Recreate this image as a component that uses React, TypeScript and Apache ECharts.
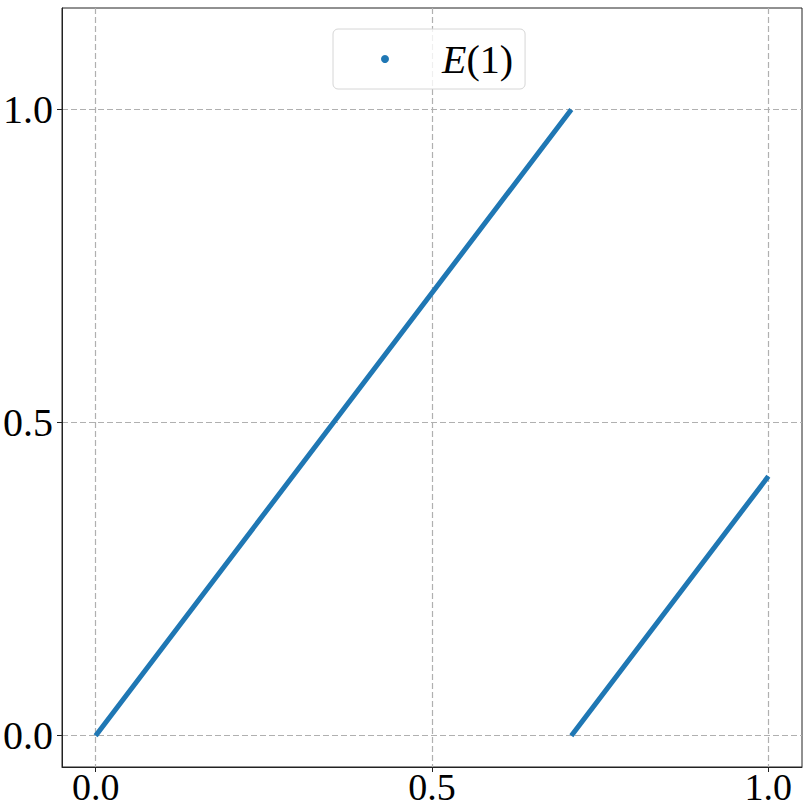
import React, { useEffect, useRef } from "react";
import * as echarts from "echarts";

const seriesName = "E(1)";
const xValues: (number | null)[] = [0, 0.7071, null, 0.7071, 1.0];
const yValues: (number | null)[] = [0, 1.0, null, 0, 0.4142];
const xTicks = [0, 0.5, 1.0];
const yTicks = [0, 0.5, 1.0];
const xRange = [-0.05, 1.05];
const yRange = [-0.05, 1.162];

const serif = "'Liberation Serif', 'DejaVu Serif', serif";

export default function App() {
  const ref = useRef<HTMLDivElement>(null);
  useEffect(() => {
    if (!ref.current) return;
    const chart = echarts.init(ref.current, null, { renderer: "svg" });
    const data = xValues.map((x, i) =>
      x === null || yValues[i] === null ? ["-", "-"] : [x, yValues[i]]
    );
    const gridLine = {
      show: true,
      lineStyle: { color: "#b0b0b0", width: 1.2, type: [6, 3] as any },
    };
    const axisLine = { show: true, onZero: false, lineStyle: { color: "#222", width: 1 } };
    chart.setOption({
      animation: false,
      backgroundColor: "#ffffff",
      grid: {
        left: 62,
        right: 8,
        top: 8,
        bottom: 43,
        show: true,
        borderColor: "#222",
        borderWidth: 1,
        containLabel: false,
        outerBoundsMode: "none",
      },
      legend: {
        show: true,
        data: [{ name: seriesName, icon: "circle" }],
        left: 333,
        top: 29,
        orient: "horizontal",
        itemWidth: 8,
        itemHeight: 8,
        padding: [10, 12, 10, 48],
        backgroundColor: "rgba(255,255,255,0.8)",
        borderColor: "#d6d6d6",
        borderWidth: 1,
        borderRadius: 5,
        textStyle: {
          color: "#000",
          fontSize: 40,
          fontFamily: serif,
          lineHeight: 40,
          rich: {
            s: { width: 48, fontSize: 40, lineHeight: 40 },
            i: { fontStyle: "italic", fontSize: 40, lineHeight: 40, fontFamily: serif, color: "#000" },
            n: { fontSize: 40, lineHeight: 40, fontFamily: serif, color: "#000" },
          },
        },
        formatter: () => "{s|}{i|E}{n|(1)}",
      },
      xAxis: {
        type: "value",
        min: xRange[0],
        max: xRange[1],
        axisLine,
        axisTick: {
          show: true,
          customValues: xTicks,
          length: 5,
          lineStyle: { color: "#222", width: 1 },
        },
        axisLabel: {
          customValues: xTicks,
          formatter: (v: number) => v.toFixed(1),
          fontSize: 38,
          lineHeight: 30,
          fontFamily: serif,
          color: "#000",
          margin: 5,
        },
        splitLine: gridLine,
      },
      yAxis: {
        type: "value",
        min: yRange[0],
        max: yRange[1],
        axisLine,
        axisTick: {
          show: true,
          customValues: yTicks,
          length: 5,
          lineStyle: { color: "#222", width: 1 },
        },
        axisLabel: {
          customValues: yTicks,
          formatter: (v: number) => v.toFixed(1),
          fontSize: 40,
          fontFamily: serif,
          color: "#000",
          margin: 9,
        },
        splitLine: gridLine,
      },
      series: [
        {
          name: seriesName,
          type: "line",
          data,
          showSymbol: false,
          connectNulls: false,
          lineStyle: { color: "#1f77b4", width: 5 },
          itemStyle: { color: "#1f77b4" },
        },
      ],
    });
    return () => chart.dispose();
  }, []);
  return (
    <div
      ref={ref}
      style={{ position: "fixed", left: 0, top: 0, width: 810, height: 810 }}
    />
  );
}
